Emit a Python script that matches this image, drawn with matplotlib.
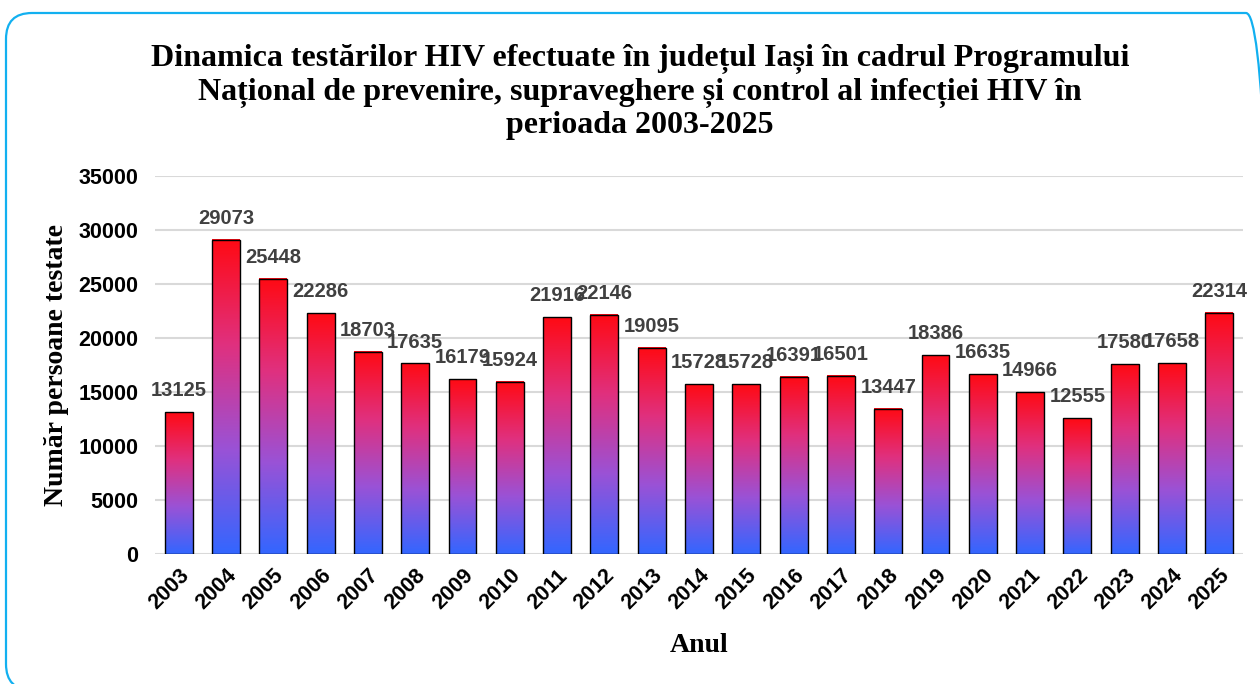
import matplotlib.pyplot as plt
import numpy as np
from matplotlib.colors import LinearSegmentedColormap
from matplotlib.patches import FancyBboxPatch, Rectangle
from matplotlib.transforms import ScaledTranslation

ani = [str(a) for a in range(2003, 2026)]
testari = [13125, 29073, 25448, 22286, 18703, 17635, 16179, 15924, 21916, 22146,
           19095, 15728, 15728, 16391, 16501, 13447, 18386, 16635, 14966, 12555,
           17580, 17658, 22314]

titlu = ('Dinamica testărilor HIV efectuate în județul Iași în cadrul Programului\n'
         'Național de prevenire, supraveghere și control al infecției HIV în\n'
         'perioada 2003-2025')

fig = plt.figure(figsize=(12.6, 6.84), dpi=100)

# fundal in pixeli pentru chenarul rotunjit
bg = fig.add_axes([0, 0, 1, 1], zorder=-1)
bg.set_xlim(0, 1260)
bg.set_ylim(0, 684)
bg.axis('off')
bg.add_patch(FancyBboxPatch((6, -6), 1266, 677, boxstyle='round,pad=0,rounding_size=26',
                            fill=False, edgecolor='#12b0f0', linewidth=1.6, clip_on=False))

ax = fig.add_axes([0.123, 0.19, 0.8635, 0.553])

cmap = LinearSegmentedColormap.from_list('rb', ['#3366ff', '#9a52d6', '#e0307e', '#ff0a14'])
grad = np.linspace(0, 1, 256).reshape(-1, 1)

w = 0.59
for i, v in enumerate(testari):
    ax.imshow(grad, cmap=cmap, origin='lower', aspect='auto',
              extent=(i - w / 2, i + w / 2, 0, v), zorder=2)
    ax.add_patch(Rectangle((i - w / 2, 0), w, v, fill=False, edgecolor='black',
                           linewidth=1, zorder=3))
    ax.text(i, v + 1100, str(v), ha='center', va='bottom', fontsize=14.5,
            fontweight='bold', color='#404040', family='Liberation Sans')

ax.set_xlim(-0.5, len(ani) - 0.5)
ax.set_ylim(0, 35000)
ax.set_yticks(range(0, 35001, 5000))
ax.set_xticks(range(len(ani)))
ax.set_xticklabels(ani, rotation=45, ha='right', rotation_mode='anchor')
for lab in ax.get_xticklabels() + ax.get_yticklabels():
    lab.set_fontfamily('Liberation Sans')
    lab.set_fontweight('bold')
    lab.set_fontsize(15.5)
deplasare = ScaledTranslation(10 / 100, 0, fig.dpi_scale_trans)
for lab in ax.get_xticklabels():
    lab.set_transform(lab.get_transform() + deplasare)
ax.tick_params(length=0)
ax.tick_params(axis='y', pad=12)
ax.tick_params(axis='x', pad=8)
ax.grid(axis='y', color='#d9d9d9', linewidth=1.5, zorder=0)
ax.set_axisbelow(True)
for s in ax.spines.values():
    s.set_visible(False)

ax.set_xlabel('Anul', family='Liberation Serif', fontweight='bold', fontsize=20, labelpad=14)
ax.set_ylabel('Număr persoane testate', family='Liberation Serif', fontweight='bold',
              fontsize=20, labelpad=7)
fig.text(0.508, 0.935, titlu, ha='center', va='top', family='Liberation Serif',
         fontweight='bold', fontsize=23, linespacing=1.16)

plt.savefig('out.png', dpi=100)
